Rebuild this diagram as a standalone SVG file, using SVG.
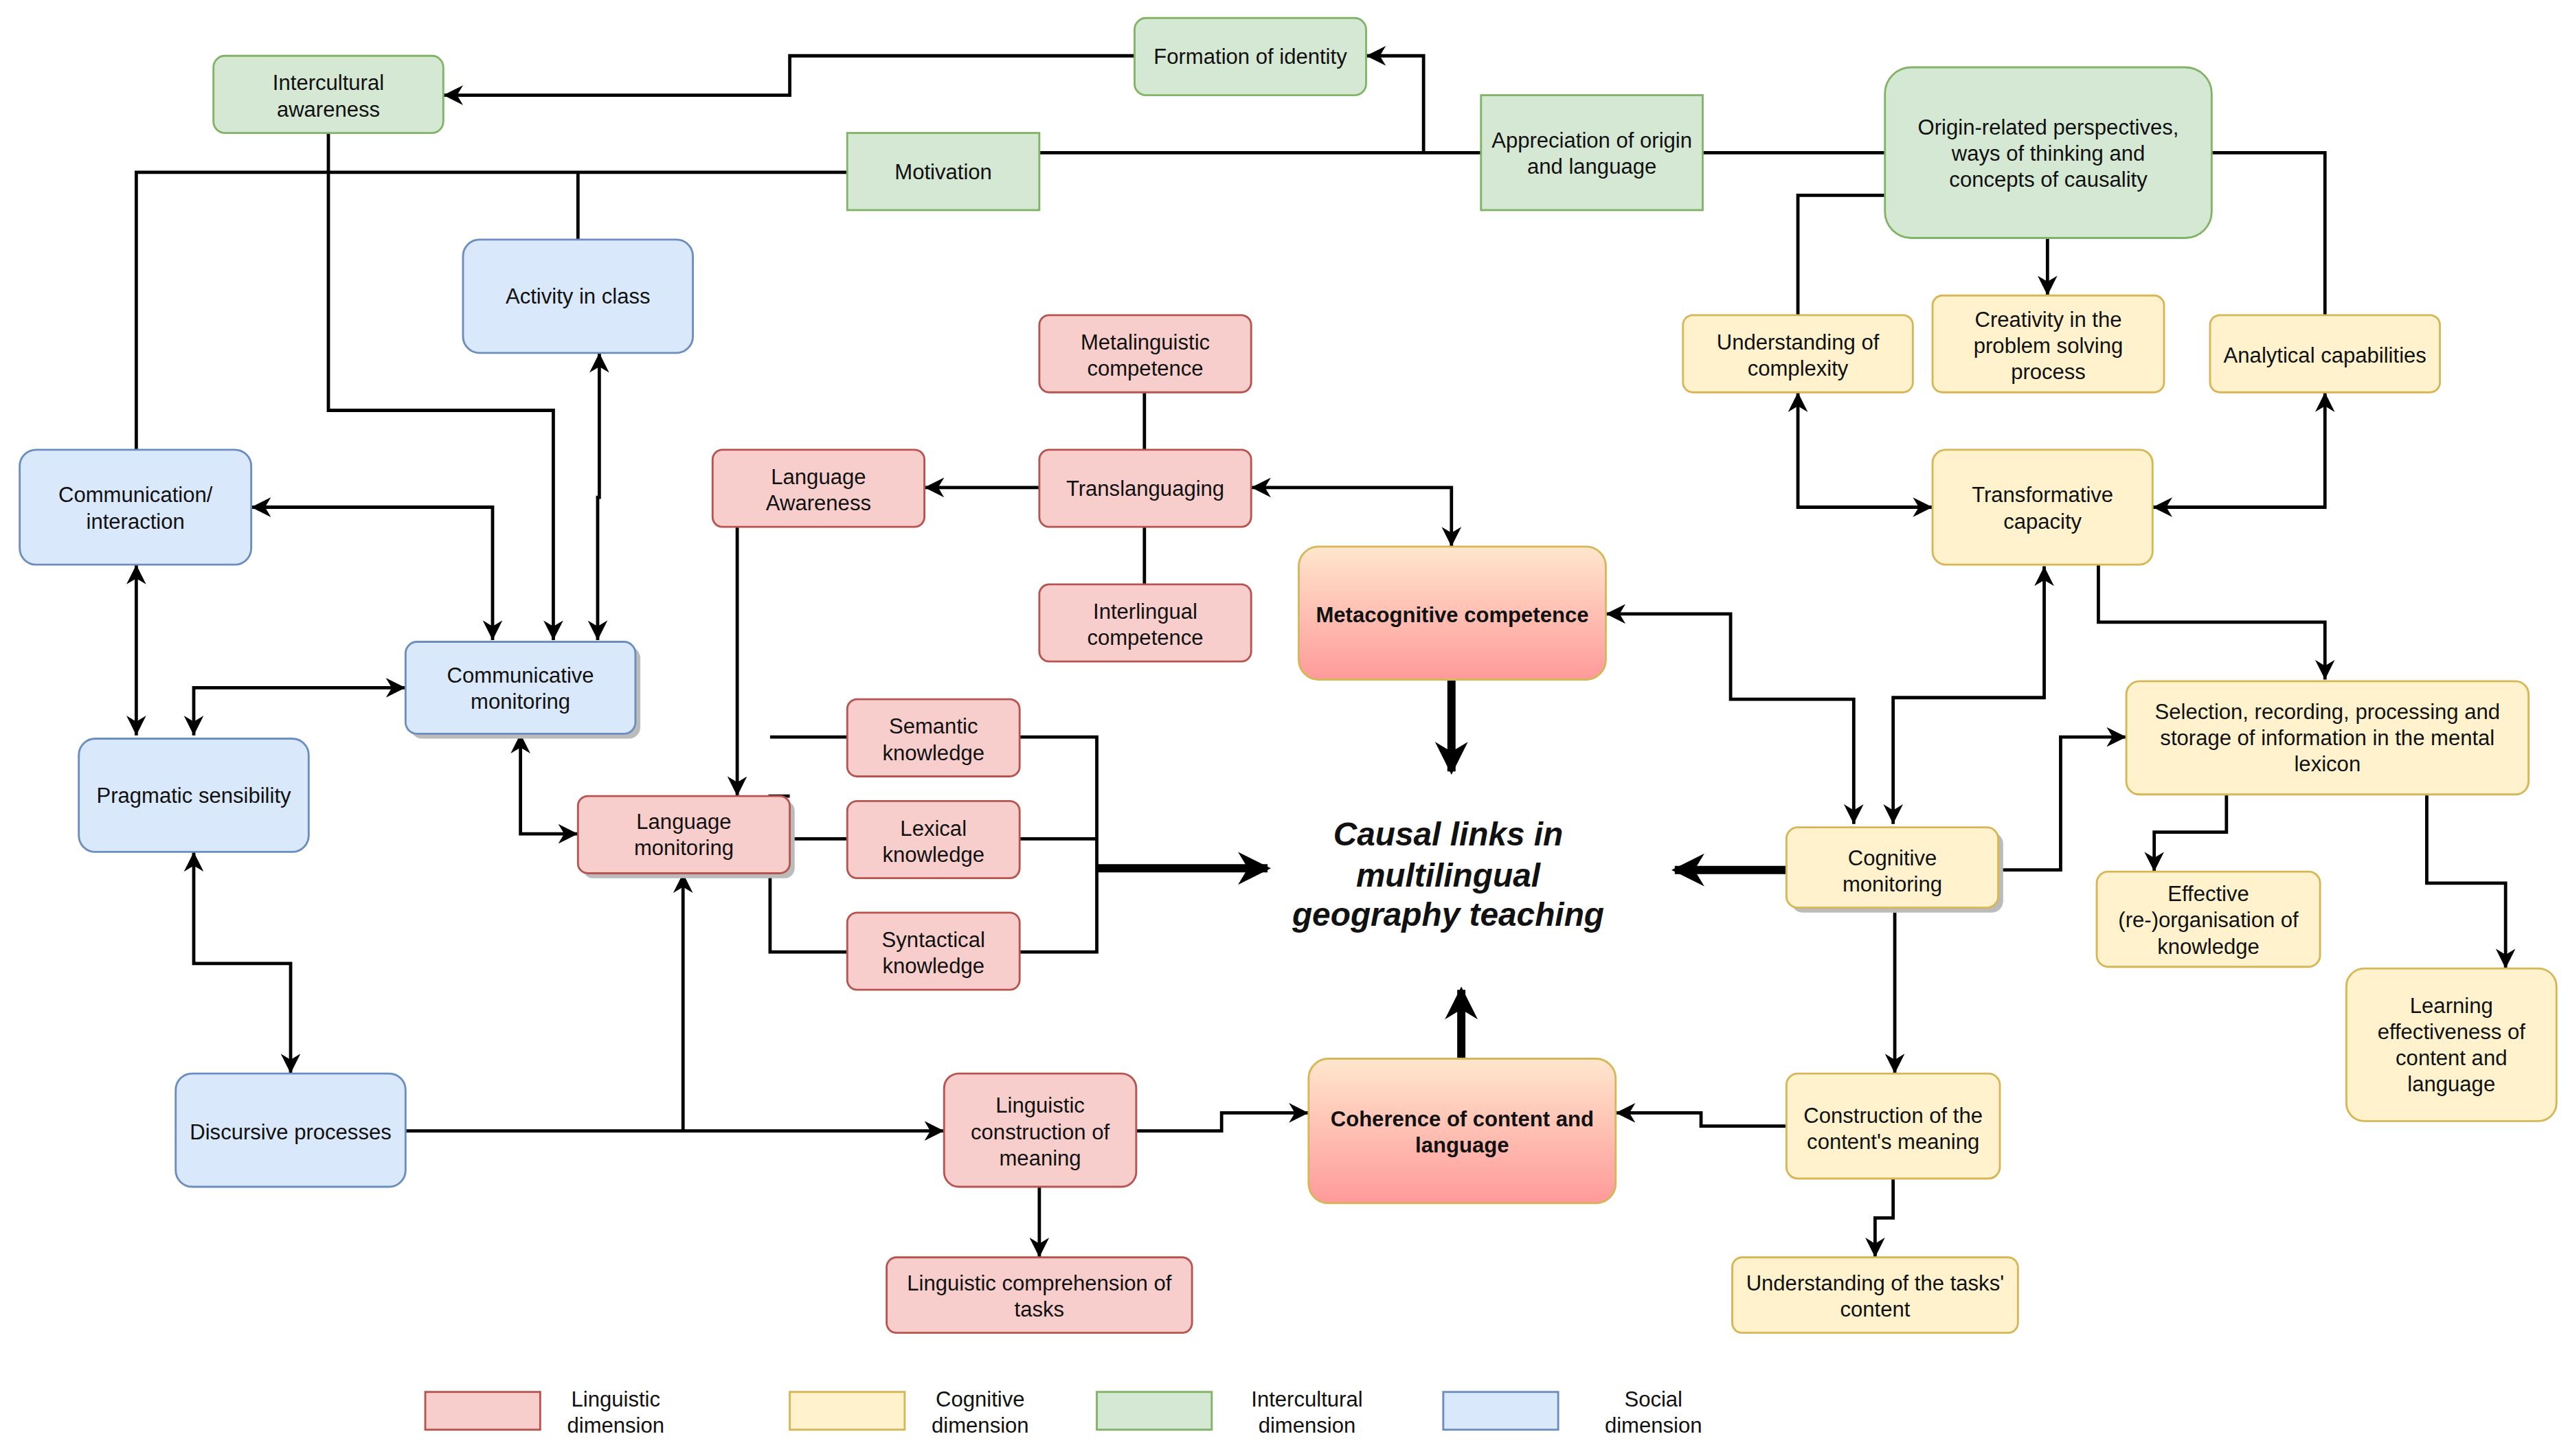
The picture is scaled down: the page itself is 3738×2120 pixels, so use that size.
<svg xmlns="http://www.w3.org/2000/svg" width="3738" height="2120" viewBox="0 0 3738 2120">
<style>
text{font-family:"Liberation Sans",Arial,sans-serif;font-size:13px;fill:#111;text-anchor:middle}
.r{fill:#f8cecc;stroke:#b85450;stroke-width:1.2}
.y{fill:#fff2cc;stroke:#d6b656;stroke-width:1.2}
.g{fill:#d5e8d4;stroke:#82b366;stroke-width:1.2}
.b{fill:#dae8fc;stroke:#6c8ebf;stroke-width:1.2}
.gr{fill:url(#grad);stroke:#d6b656;stroke-width:1.2}
.sh{fill:#bbb;stroke:none}
.c path{fill:none;stroke:#000;stroke-width:2}
.c path.s{marker-end:url(#a)}
.c path.d{marker-end:url(#a);marker-start:url(#a)}
.c path.t{stroke-width:5;marker-end:url(#ta)}
.bold{font-weight:bold}
.big{font-size:20px;font-weight:bold;font-style:italic}
</style>
<defs>
<linearGradient id="grad" x1="0" y1="0" x2="0" y2="1"><stop offset="0" stop-color="#ffe6cc"/><stop offset="1" stop-color="#ff9a9a"/></linearGradient>
<marker id="a" markerUnits="userSpaceOnUse" markerWidth="12" markerHeight="12" viewBox="0 0 10 10" refX="10" refY="5" orient="auto-start-reverse"><path d="M0,0 L10,5 L0,10 L3,5 z" fill="#000"/></marker>
<marker id="ta" markerUnits="userSpaceOnUse" markerWidth="20" markerHeight="20" viewBox="0 0 10 10" refX="9" refY="5" orient="auto"><path d="M0,0 L10,5 L0,10 L3,5 z" fill="#000"/></marker>
</defs>
<rect width="3738" height="2120" fill="#fff"/>
<g transform="scale(2.39)">
<g class="c" id="connectors">
<path class="s" d="M691,34 H481 V58 H270"/>
<path d="M633,93 H902"/>
<path class="s" d="M867,93 V34 H832"/>
<path d="M1037,93 H1148"/>
<path d="M1347,93 H1416 V192"/>
<path d="M1148,119 H1095 V192"/>
<path class="s" d="M1247,145 V180"/>
<path d="M516,105 H83 V274"/>
<path d="M352,105 V146"/>
<path class="s" d="M200,81 V250 H337 V390"/>
<path class="d" d="M365,215 V303 H364 V390"/>
<path class="d" d="M153,309 H300 V390"/>
<path class="d" d="M83,344 V448"/>
<path class="d" d="M118,448 V419 H247"/>
<path class="d" d="M317,447 V508 H352"/>
<path class="d" d="M118,519 V587 H177 V654"/>
<path class="s" d="M247,689 H575"/>
<path class="s" d="M416,689 V532"/>
<path class="s" d="M449,321 V485"/>
<path class="s" d="M633,297 H563"/>
<path d="M697,239 V274 M697,321 V356"/>
<path class="d" d="M762,297 H884 V333"/>
<path d="M481,485 H469 V580 H516 M469,449 H516 M481,532 H469 M481,511 H516"/>
<path d="M621,449 H668 V580 H621 M621,511 H668"/>
<path class="t" d="M668,529 H772"/>
<path class="t" d="M884,414 V470"/>
<path class="t" d="M890,645 V603"/>
<path class="t" d="M1088,530 H1020"/>
<path class="d" d="M978,374 H1054 V426 H1129 V502"/>
<path class="d" d="M1153,502 V425 H1245 V345"/>
<path class="d" d="M1095,239 V309 H1177"/>
<path class="d" d="M1416,239 V309 H1311"/>
<path class="s" d="M1278,344 V379 H1416 V414"/>
<path class="s" d="M1217,530 H1255 V449 H1295"/>
<path class="s" d="M1356,484 V507 H1312 V531"/>
<path class="s" d="M1478,484 V538 H1526 V590"/>
<path class="s" d="M1154,556 V654"/>
<path class="s" d="M1088,686 H1036 V678 H984"/>
<path class="s" d="M1153,718 V742 H1142 V766"/>
<path class="s" d="M692,689 H744 V678 H797"/>
<path class="s" d="M633,723 V766"/>
</g>

<g id="formation"><rect class="g" x="691" y="11" width="141" height="47" rx="7"/><text x="761.5" y="39">Formation of identity</text></g>
<g id="intercultural"><rect class="g" x="130" y="34" width="140" height="47" rx="7"/><text x="200" y="55">Intercultural</text><text x="200" y="71">awareness</text></g>
<g id="motivation"><rect class="g" x="516" y="81" width="117" height="47"/><text x="574.5" y="109">Motivation</text></g>
<g id="appreciation"><rect class="g" x="902" y="58" width="135" height="70"/><text x="969.5" y="90">Appreciation of origin</text><text x="969.5" y="106">and language</text></g>
<g id="origin"><rect class="g" x="1148" y="41" width="199" height="104" rx="16"/><text x="1247.5" y="82">Origin-related perspectives,</text><text x="1247.5" y="98">ways of thinking and</text><text x="1247.5" y="114">concepts of causality</text></g>
<g id="activity"><rect class="b" x="282" y="146" width="140" height="69" rx="10"/><text x="352" y="185">Activity in class</text></g>
<g id="metaling"><rect class="r" x="633" y="192" width="129" height="47" rx="6"/><text x="697.5" y="213">Metalinguistic</text><text x="697.5" y="229">competence</text></g>
<g id="langaware"><rect class="r" x="434" y="274" width="129" height="47" rx="6"/><text x="498.5" y="295">Language</text><text x="498.5" y="311">Awareness</text></g>
<g id="translang"><rect class="r" x="633" y="274" width="129" height="47" rx="6"/><text x="697.5" y="302">Translanguaging</text></g>
<g id="interling"><rect class="r" x="633" y="356" width="129" height="47" rx="6"/><text x="697.5" y="377">Interlingual</text><text x="697.5" y="393">competence</text></g>
<g id="communication"><rect class="b" x="12" y="274" width="141" height="70" rx="10"/><text x="82.5" y="306">Communication/</text><text x="82.5" y="322">interaction</text></g>
<g id="commmon"><rect class="sh" x="250" y="394" width="140" height="56" rx="7"/><rect class="b" x="247" y="391" width="140" height="56" rx="7"/><text x="317" y="416">Communicative</text><text x="317" y="432">monitoring</text></g>
<g id="pragmatic"><rect class="b" x="48" y="450" width="140" height="69" rx="10"/><text x="118" y="489">Pragmatic sensibility</text></g>
<g id="semantic"><rect class="r" x="516" y="426" width="105" height="47" rx="6"/><text x="568.5" y="447">Semantic</text><text x="568.5" y="463">knowledge</text></g>
<g id="lexical"><rect class="r" x="516" y="488" width="105" height="47" rx="6"/><text x="568.5" y="509">Lexical</text><text x="568.5" y="525">knowledge</text></g>
<g id="syntactical"><rect class="r" x="516" y="556" width="105" height="47" rx="6"/><text x="568.5" y="577">Syntactical</text><text x="568.5" y="593">knowledge</text></g>
<g id="langmon"><rect class="sh" x="355" y="488" width="129" height="47" rx="6"/><rect class="r" x="352" y="485" width="129" height="47" rx="6"/><text x="416.5" y="505">Language</text><text x="416.5" y="521">monitoring</text></g>
<g id="metacog"><rect class="gr" x="791" y="333" width="187" height="81" rx="12"/><text class="bold" x="884.5" y="379">Metacognitive competence</text></g>
<g id="center"><text class="big" x="882" y="515">Causal links in</text><text class="big" x="882" y="540">multilingual</text><text class="big" x="882" y="564">geography teaching</text></g>
<g id="cogmon"><rect class="sh" x="1091" y="507" width="129" height="49" rx="7"/><rect class="y" x="1088" y="504" width="129" height="49" rx="7"/><text x="1152.5" y="527">Cognitive</text><text x="1152.5" y="543">monitoring</text></g>
<g id="complexity"><rect class="y" x="1025" y="192" width="140" height="47" rx="6"/><text x="1095" y="213">Understanding of</text><text x="1095" y="229">complexity</text></g>
<g id="creativity"><rect class="y" x="1177" y="180" width="141" height="59" rx="6"/><text x="1247.5" y="199">Creativity in the</text><text x="1247.5" y="215">problem solving</text><text x="1247.5" y="231">process</text></g>
<g id="analytical"><rect class="y" x="1346" y="192" width="140" height="47" rx="6"/><text x="1416" y="221">Analytical capabilities</text></g>
<g id="transformative"><rect class="y" x="1177" y="274" width="134" height="70" rx="8"/><text x="1244" y="306">Transformative</text><text x="1244" y="322">capacity</text></g>
<g id="selection"><rect class="y" x="1295" y="415" width="245" height="69" rx="8"/><text x="1417.5" y="438">Selection, recording, processing and</text><text x="1417.5" y="454">storage of information in the mental</text><text x="1417.5" y="470">lexicon</text></g>
<g id="effective"><rect class="y" x="1277" y="531" width="136" height="58" rx="7"/><text x="1345" y="549">Effective</text><text x="1345" y="565">(re-)organisation of</text><text x="1345" y="581">knowledge</text></g>
<g id="learning"><rect class="y" x="1429" y="590" width="128" height="93" rx="11"/><text x="1493" y="617">Learning</text><text x="1493" y="633">effectiveness of</text><text x="1493" y="649">content and</text><text x="1493" y="665">language</text></g>
<g id="discursive"><rect class="b" x="107" y="654" width="140" height="69" rx="10"/><text x="177" y="694">Discursive processes</text></g>
<g id="lingcon"><rect class="r" x="575" y="654" width="117" height="69" rx="9"/><text x="633.5" y="678">Linguistic</text><text x="633.5" y="694">construction of</text><text x="633.5" y="710">meaning</text></g>
<g id="lingcomp"><rect class="r" x="540" y="766" width="186" height="46" rx="6"/><text x="633" y="786">Linguistic comprehension of</text><text x="633" y="802">tasks</text></g>
<g id="coherence"><rect class="gr" x="797" y="645" width="187" height="88" rx="12"/><text class="bold" x="890.5" y="686">Coherence of content and</text><text class="bold" x="890.5" y="702">language</text></g>
<g id="construction"><rect class="y" x="1088" y="654" width="130" height="64" rx="7"/><text x="1153" y="684">Construction of the</text><text x="1153" y="700">content's meaning</text></g>
<g id="tasks"><rect class="y" x="1055" y="766" width="174" height="46" rx="6"/><text x="1142" y="786">Understanding of the tasks'</text><text x="1142" y="802">content</text></g>
<g id="legend">
<rect class="r" x="259" y="848" width="70" height="23"/><text x="375" y="857">Linguistic</text><text x="375" y="873">dimension</text>
<rect class="y" x="481" y="848" width="70" height="23"/><text x="597" y="857">Cognitive</text><text x="597" y="873">dimension</text>
<rect class="g" x="668" y="848" width="70" height="23"/><text x="796" y="857">Intercultural</text><text x="796" y="873">dimension</text>
<rect class="b" x="879" y="848" width="70" height="23"/><text x="1007" y="857">Social</text><text x="1007" y="873">dimension</text>
</g>
</g>
</svg>
